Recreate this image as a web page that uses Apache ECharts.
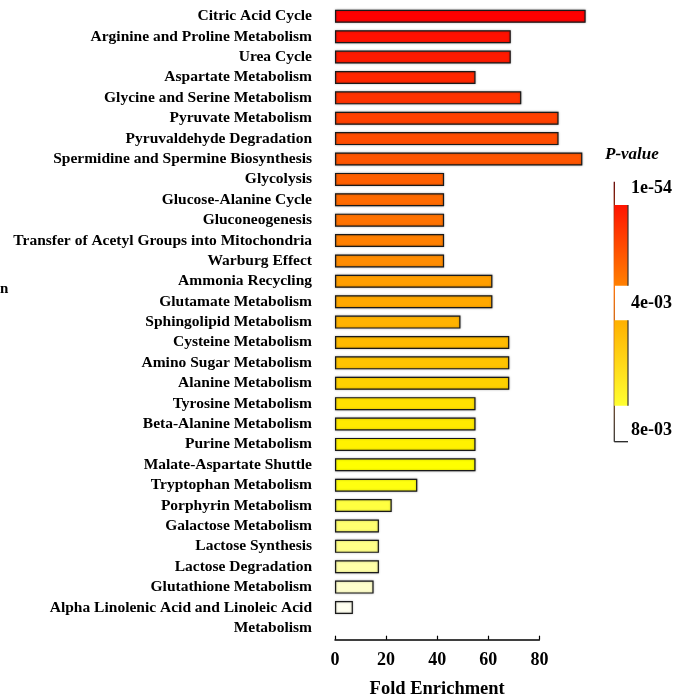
<!DOCTYPE html>
<html>
<head>
<meta charset="utf-8">
<script src="https://cdn.jsdelivr.net/npm/echarts@6/dist/echarts.min.js"></script>
<style>
html,body{margin:0;padding:0;background:#fff;}
#chart{width:684px;height:696px;}
</style>
</head>
<body>
<div id="chart"></div>
<script>
var categories = [
  "Citric Acid Cycle",
  "Arginine and Proline Metabolism",
  "Urea Cycle",
  "Aspartate Metabolism",
  "Glycine and Serine Metabolism",
  "Pyruvate Metabolism",
  "Pyruvaldehyde Degradation",
  "Spermidine and Spermine Biosynthesis",
  "Glycolysis",
  "Glucose-Alanine Cycle",
  "Gluconeogenesis",
  "Transfer of Acetyl Groups into Mitochondria",
  "Warburg Effect",
  "Ammonia Recycling",
  "Glutamate Metabolism",
  "Sphingolipid Metabolism",
  "Cysteine Metabolism",
  "Amino Sugar Metabolism",
  "Alanine Metabolism",
  "Tyrosine Metabolism",
  "Beta-Alanine Metabolism",
  "Purine Metabolism",
  "Malate-Aspartate Shuttle",
  "Tryptophan Metabolism",
  "Porphyrin Metabolism",
  "Galactose Metabolism",
  "Lactose Synthesis",
  "Lactose Degradation",
  "Glutathione Metabolism",
  "Alpha Linolenic Acid and Linoleic Acid Metabolism"
];
var foldEnrichment = [98.1, 68.8, 68.8, 55.0, 72.9, 87.5, 87.5, 96.8, 42.7, 42.7, 42.7, 42.7, 42.7,
  61.6, 61.6, 49.1, 68.2, 68.2, 68.2, 55.0, 55.0, 55.0, 55.0, 32.2, 22.2, 17.2, 17.2, 17.2, 15.1, 7.0];
var barColors = ["#ff0000", "#ff1000", "#ff1a00", "#ff2600", "#ff3300", "#ff4000", "#ff4c00", "#ff5500",
  "#ff5f00", "#ff6a00", "#ff7200", "#ff7f00", "#ff8c00", "#ff9e00", "#ffa800", "#ffb300", "#ffbb00",
  "#ffc400", "#ffd200", "#ffe000", "#ffea00", "#fff200", "#ffff00", "#ffff10", "#ffff40", "#ffff70",
  "#ffff88", "#ffffa8", "#ffffcc", "#fffff0"];
var xTicks = [0, 20, 40, 60, 80];
var legendLabels = ["1e-54", "4e-03", "8e-03"];

var serif = '"Liberation Serif", "Times New Roman", serif';
var chart = echarts.init(document.getElementById('chart'));

var option = {
  animation: false,
  backgroundColor: '#ffffff',
  grid: { left: 335, top: 6.1, width: 204.4, height: 611.6, containLabel: false, outerBoundsMode: 'none' },
  xAxis: {
    type: 'value', min: xTicks[0], max: xTicks[xTicks.length - 1], interval: 20,
    offset: 22,
    name: 'Fold Enrichment', nameLocation: 'middle', nameGap: 40,
    nameTextStyle: { fontFamily: serif, fontWeight: 'bold', fontSize: 18.5, color: '#000' },
    axisLine: { show: true, lineStyle: { color: '#000', width: 1.5 } },
    axisTick: { show: true, inside: true, length: 4, lineStyle: { color: '#000', width: 1.2 } },
    axisLabel: { fontFamily: serif, fontWeight: 'bold', fontSize: 18, color: '#000', margin: 12 },
    splitLine: { show: false }
  },
  yAxis: {
    type: 'category', inverse: true, data: categories,
    axisLine: { show: false }, axisTick: { show: false },
    axisLabel: {
      fontFamily: serif, fontWeight: 'bold', fontSize: 15.5, color: '#000', margin: 23,
      lineHeight: 20, interval: 0,
      formatter: function (v) {
        if (v === "Alpha Linolenic Acid and Linoleic Acid Metabolism") {
          return "\nAlpha Linolenic Acid and Linoleic Acid\nMetabolism";
        }
        return v;
      }
    }
  },
  series: [{
    type: 'bar',
    clip: false,
    barWidth: 13,
    data: foldEnrichment.map(function (v, i) {
      return { value: v, itemStyle: { color: barColors[i] } };
    }),
    itemStyle: { borderColor: '#1a1a1a', borderWidth: 1.2, shadowBlur: 2, shadowColor: 'rgba(0,0,0,0.3)' }
  }],
  graphic: [
    { type: 'text', left: 0, top: 282, style: { text: 'n', font: 'bold 15px ' + serif, fill: '#000' } },
    { type: 'text', left: 605, top: 146, style: { text: 'P-value', font: 'italic bold 17px ' + serif, fill: '#000' } },
    { type: 'line', shape: { x1: 614.3, y1: 181.7, x2: 614.3, y2: 441.7 },
      style: { stroke: new echarts.graphic.LinearGradient(0, 0, 0, 1, [
        { offset: 0, color: '#600000' }, { offset: 0.4, color: '#ff7000' }, { offset: 1, color: '#333' }]), lineWidth: 1.3 } },
    { type: 'line', shape: { x1: 614.3, y1: 441.7, x2: 628, y2: 441.7 }, style: { stroke: '#222', lineWidth: 1.3 } },
    { type: 'rect', shape: { x: 614.3, y: 205, width: 13.7, height: 80.7 },
      style: { fill: new echarts.graphic.LinearGradient(0, 0, 0, 1, [
        { offset: 0, color: '#ff1400' }, { offset: 1, color: '#ff8000' }]) } },
    { type: 'line', shape: { x1: 628, y1: 205, x2: 628, y2: 285.7 }, style: { stroke: '#333', lineWidth: 1.2 } },
    { type: 'rect', shape: { x: 614.3, y: 320.3, width: 13.7, height: 85.4 },
      style: { fill: new echarts.graphic.LinearGradient(0, 0, 0, 1, [
        { offset: 0, color: '#ffb000' }, { offset: 1, color: '#ffff30' }]) } },
    { type: 'line', shape: { x1: 628, y1: 320.3, x2: 628, y2: 405.7 }, style: { stroke: '#333', lineWidth: 1.2 } },
    { type: 'text', left: 631, top: 179, style: { text: legendLabels[0], font: 'bold 18px ' + serif, fill: '#000' } },
    { type: 'text', left: 631, top: 294, style: { text: legendLabels[1], font: 'bold 18px ' + serif, fill: '#000' } },
    { type: 'text', left: 631, top: 421, style: { text: legendLabels[2], font: 'bold 18px ' + serif, fill: '#000' } }
  ]
};
chart.setOption(option);
</script>
</body>
</html>
